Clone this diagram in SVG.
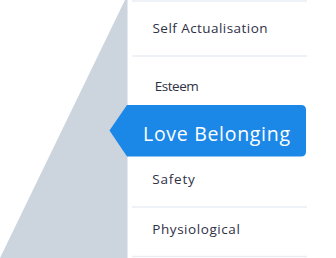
<svg xmlns="http://www.w3.org/2000/svg" width="336" height="258" viewBox="0 0 336 258">
<style>
.sep{stroke:#e9edf2;stroke-width:1.6;fill:none}
.lbl{font-family:"Open Sans","Liberation Sans",sans-serif;font-size:13.5px;fill:#2f3146}
.hl{font-family:"Open Sans","Liberation Sans",sans-serif;font-size:19.5px;fill:#ffffff}
</style>
<rect width="336" height="258" fill="#ffffff"/>
<polygon id="pyramid" points="0,258 125,0 127.5,0 127.5,258" fill="#ccd4dd"/>
<g id="connectors">
<line class="sep" x1="132" y1="1" x2="307" y2="1"/>
<line class="sep" x1="132" y1="56" x2="307" y2="56"/>
<line class="sep" x1="132" y1="207" x2="307" y2="207"/>
<line class="sep" x1="132" y1="256.5" x2="307" y2="256.5"/>
</g>
<g id="self-actualisation"><text class="lbl" x="152.5" y="33.3" textLength="115">Self Actualisation</text></g>
<g id="esteem"><text class="lbl" x="154.8" y="90.7" textLength="44">Esteem</text></g>
<g id="love-belonging">
<path d="M109.5,130.5 L127,105 L301,105 Q306,105 306,110 L306,151.5 Q306,156.5 301,156.5 L127,156.5 Z" fill="#1b88e8"/>
<text class="hl" x="143" y="140.5" textLength="147">Love Belonging</text>
</g>
<g id="safety"><text class="lbl" x="152.3" y="184" textLength="42.5">Safety</text></g>
<g id="physiological"><text class="lbl" x="152.3" y="234" textLength="87.5">Physiological</text></g>
</svg>
